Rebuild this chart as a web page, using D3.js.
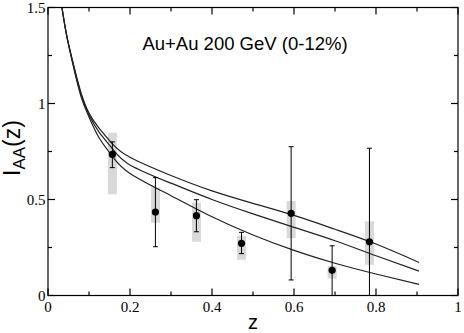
<!DOCTYPE html>
<html>
<head>
<meta charset="utf-8">
<script src="https://cdn.jsdelivr.net/npm/d3@7"></script>
<style>
  body { margin: 0; background: #fff; }
  svg { display: block; }
</style>
</head>
<body>
<script>
// model curves
const curveZ = [0.034, 0.045, 0.06, 0.08, 0.1, 0.125, 0.157, 0.2, 0.3, 0.4, 0.5, 0.6, 0.7, 0.8, 0.905];
const upper  = [1.5, 1.36, 1.22, 1.06, 0.95, 0.87, 0.79, 0.72, 0.625, 0.545, 0.48, 0.417, 0.345, 0.268, 0.172];
const middle = [1.5, 1.36, 1.22, 1.05, 0.94, 0.85, 0.765, 0.68, 0.585, 0.50, 0.425, 0.355, 0.285, 0.207, 0.127];
const lower  = [1.5, 1.36, 1.21, 1.04, 0.93, 0.82, 0.725, 0.636, 0.52, 0.41, 0.315, 0.235, 0.168, 0.112, 0.058];

// data points
const pz    = [0.157, 0.262, 0.362, 0.472, 0.593, 0.693, 0.784];
const py    = [0.735, 0.435, 0.416, 0.272, 0.428, 0.131, 0.28];
const errLo = [0.666, 0.254, 0.332, 0.218, 0.081, 0, 0];
const errHi = [0.80, 0.614, 0.499, 0.329, 0.775, 0.259, 0.767];
const sysLo = [0.527, 0.379, 0.28, 0.186, 0.298, 0.088, 0.16];
const sysHi = [0.848, 0.564, 0.483, 0.311, 0.492, 0.154, 0.386];

const xTicks = [0, 0.2, 0.4, 0.6, 0.8, 1];
const yTicks = [0, 0.5, 1, 1.5];

const width = 464, height = 333;
const x = d3.scaleLinear().domain([0, 1]).range([48, 458]);
const y = d3.scaleLinear().domain([0, 1.5]).range([295.5, 7.5]);

const svg = d3.select("body").append("svg")
    .attr("width", width)
    .attr("height", height);

svg.append("defs").append("clipPath").attr("id", "clip")
  .append("rect")
    .attr("x", x(0)).attr("y", y(1.5))
    .attr("width", x(1) - x(0)).attr("height", y(0) - y(1.5));

// systematic boxes
svg.append("g").attr("fill", "#d9d9d9")
  .selectAll("rect")
  .data(pz)
  .join("rect")
    .attr("x", d => x(d) - 4.5)
    .attr("width", 9)
    .attr("y", (d, i) => y(sysHi[i]))
    .attr("height", (d, i) => y(sysLo[i]) - y(sysHi[i]));

// curves
const line = d3.line()
    .x((d, i) => x(curveZ[i]))
    .y(d => y(d))
    .curve(d3.curveNatural);

svg.append("g")
    .attr("clip-path", "url(#clip)")
    .attr("fill", "none")
    .attr("stroke", "#222")
    .attr("stroke-width", 1.2)
  .selectAll("path")
  .data([upper, middle, lower])
  .join("path")
    .attr("d", line);

// error bars
const eb = svg.append("g").attr("stroke", "#000").attr("stroke-width", 1);
pz.forEach((d, i) => {
  const cx = x(d);
  eb.append("line").attr("x1", cx).attr("x2", cx)
      .attr("y1", y(errHi[i])).attr("y2", y(errLo[i]));
  [errHi[i], errLo[i]].forEach(v => {
    eb.append("line").attr("x1", cx - 2.5).attr("x2", cx + 2.5)
        .attr("y1", y(v)).attr("y2", y(v));
  });
});

svg.append("g")
  .selectAll("circle")
  .data(pz)
  .join("circle")
    .attr("cx", d => x(d))
    .attr("cy", (d, i) => y(py[i]))
    .attr("r", 3.6)
    .attr("fill", "#000");

// frame with inward ticks on all four sides
const frame = svg.append("g").attr("stroke", "#000").attr("stroke-width", 1.2);
frame.append("rect")
    .attr("x", x(0)).attr("y", y(1.5))
    .attr("width", x(1) - x(0)).attr("height", y(0) - y(1.5))
    .attr("fill", "none");

d3.range(0, 1.001, 0.1).forEach((t, i) => {
  const len = i % 2 === 0 ? 7 : 4;
  frame.append("line").attr("x1", x(t)).attr("x2", x(t))
      .attr("y1", y(0)).attr("y2", y(0) - len);
  frame.append("line").attr("x1", x(t)).attr("x2", x(t))
      .attr("y1", y(1.5)).attr("y2", y(1.5) + len);
});
d3.range(0, 1.501, 0.25).forEach((t, i) => {
  const len = i % 2 === 0 ? 7 : 4;
  frame.append("line").attr("y1", y(t)).attr("y2", y(t))
      .attr("x1", x(0)).attr("x2", x(0) + len);
  frame.append("line").attr("y1", y(t)).attr("y2", y(t))
      .attr("x1", x(1)).attr("x2", x(1) - len);
});

// tick labels
const fmt = d => d === 0 ? "0" : d === 1 ? "1" : d3.format("")(d);
svg.append("g")
    .attr("font-family", "'Liberation Serif', 'Times New Roman', serif")
    .attr("font-size", 15)
    .attr("text-anchor", "middle")
  .selectAll("text")
  .data(xTicks)
  .join("text")
    .attr("x", d => x(d))
    .attr("y", 312)
    .text(fmt);

svg.append("g")
    .attr("font-family", "'Liberation Serif', 'Times New Roman', serif")
    .attr("font-size", 15)
    .attr("text-anchor", "end")
  .selectAll("text")
  .data(yTicks)
  .join("text")
    .attr("x", 45.5)
    .attr("y", d => y(d))
    .attr("dy", "0.35em")
    .text(fmt);

// titles
const sans = "'Liberation Sans', Arial, Helvetica, sans-serif";
svg.append("text")
    .attr("x", 245).attr("y", 50)
    .attr("text-anchor", "middle")
    .attr("font-family", sans)
    .attr("font-size", 18.5)
    .text("Au+Au 200 GeV (0-12%)");

svg.append("text")
    .attr("x", x(0.5)).attr("y", 329)
    .attr("text-anchor", "middle")
    .attr("font-family", sans)
    .attr("font-size", 20)
    .text("z");

const yl = svg.append("text")
    .attr("transform", "translate(20,148) rotate(-90)")
    .attr("text-anchor", "middle")
    .attr("font-family", sans)
    .attr("font-size", 23);
yl.append("tspan").text("I");
yl.append("tspan").attr("font-size", 17).attr("dy", 5).text("AA");
yl.append("tspan").attr("dy", -5).text("(z)");
</script>
</body>
</html>
